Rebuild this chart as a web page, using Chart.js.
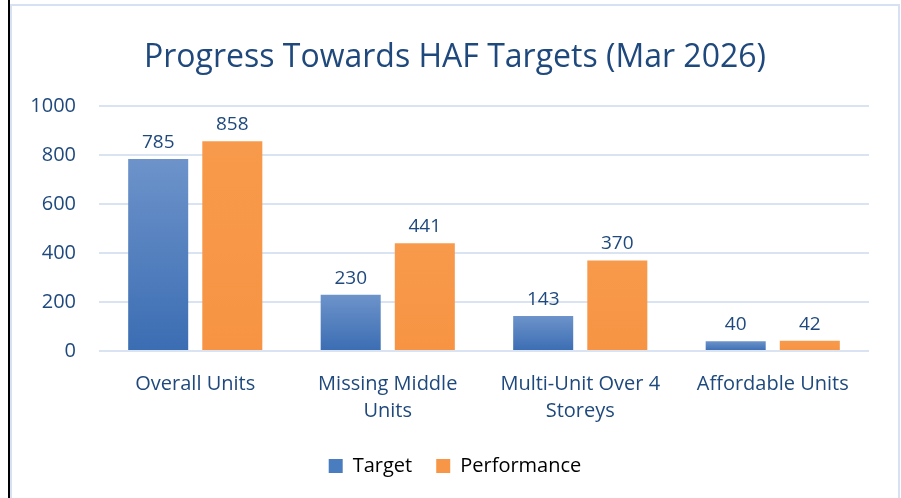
<!DOCTYPE html>
<html>
<head>
<meta charset="utf-8">
<script src="https://cdn.jsdelivr.net/npm/chart.js@4.4.1/dist/chart.umd.min.js"></script>
<style>
  html,body{margin:0;padding:0;background:#fff;}
  #page{position:relative;width:901px;height:498px;overflow:hidden;background:#fff;}
  #rule{position:absolute;left:8px;top:0;width:2px;height:498px;background:#000;}
  #frame{position:absolute;left:10px;top:4px;width:886px;height:500px;border:2px solid #d6e2f4;border-bottom:none;}
  #wrap{position:absolute;left:12px;top:6px;width:886px;height:492px;}
</style>
</head>
<body>
<div id="page">
  <div id="rule"></div>
  <div id="frame"></div>
  <div id="wrap"><canvas id="haf-chart"></canvas></div>
</div>
<script>
/* Progress Towards HAF Targets (Mar 2026) */
const categories=[['Overall Units'],['Missing Middle','Units'],['Multi-Unit Over 4','Storeys'],['Affordable Units']];
const targetVals=[785,230,143,40];
const performanceVals=[858,441,370,42];
const yTicks=[0,200,400,600,800,1000];

const TXT='#1f497d';
const FONT='"Open Sans", Lato, sans-serif';

function barFill(top,bottom){
  return function(ctx){
    const c=ctx.chart;const y=c.scales.y;
    if(!c.chartArea||!y||ctx.raw==null)return bottom;
    const y0=y.getPixelForValue(ctx.raw),y1=y.getPixelForValue(0);
    if(!isFinite(y0)||!isFinite(y1)||y0===y1)return bottom;
    const g=c.ctx.createLinearGradient(0,y0,0,y1);
    g.addColorStop(0,top);g.addColorStop(1,bottom);
    return g;
  };
}

const valueLabels={
  id:'valueLabels',
  afterDatasetsDraw(chart){
    const ctx=chart.ctx;
    ctx.save();
    ctx.font='19px '+FONT;ctx.fillStyle=TXT;ctx.textAlign='center';ctx.textBaseline='alphabetic';
    chart.data.datasets.forEach(function(ds,i){
      chart.getDatasetMeta(i).data.forEach(function(el,j){
        ctx.fillText(String(ds.data[j]),el.x,el.y-11);
      });
    });
    ctx.restore();
  }
};

new Chart(document.getElementById('haf-chart'),{
  type:'bar',
  data:{labels:categories,datasets:[
    {label:'Target',data:targetVals,backgroundColor:barFill('#6d93ca','#3b6db3'),legendColor:'#4a7dc0',categoryPercentage:0.77,barPercentage:0.81},
    {label:'Performance',data:performanceVals,backgroundColor:barFill('#f89a4b','#f69443'),legendColor:'#f79646',categoryPercentage:0.77,barPercentage:0.81}
  ]},
  plugins:[valueLabels],
  options:{
    responsive:true,maintainAspectRatio:false,animation:false,
    layout:{padding:{left:0,right:0,top:0,bottom:12}},
    scales:{
      x:{
        grid:{display:false,drawTicks:false},border:{display:false},
        ticks:{color:TXT,font:{family:FONT,size:20,lineHeight:1.35},padding:20,maxRotation:0,autoSkip:false},
        afterFit:function(s){s.height=81;}
      },
      y:{
        min:0,max:1000,
        afterBuildTicks:function(s){s.ticks=yTicks.map(function(v){return {value:v};});},
        grid:{color:'#d9e3f2',lineWidth:2,drawTicks:false},border:{display:false},
        ticks:{color:TXT,font:{family:FONT,size:20},padding:23,callback:function(v){return String(v);}},
        afterFit:function(s){s.width=87;}
      },
      yPad:{
        position:'right',display:true,
        grid:{display:false,drawTicks:false},border:{display:false},ticks:{display:false},
        afterFit:function(s){s.width=29;}
      }
    },
    plugins:{
      title:{display:true,text:'Progress Towards HAF Targets (Mar 2026)',color:TXT,font:{family:FONT,size:32,weight:'normal'},padding:{top:33,bottom:29}},
      legend:{position:'bottom',
        labels:{color:TXT,font:{family:FONT,size:20},boxWidth:14,boxHeight:14,padding:24,
          generateLabels:function(chart){
            return chart.data.datasets.map(function(ds,i){
              return {text:ds.label,fillStyle:ds.legendColor,strokeStyle:ds.legendColor,lineWidth:0,datasetIndex:i,hidden:false};
            });
          }}},
      tooltip:{enabled:false}
    }
  }
});
</script>
</body>
</html>
